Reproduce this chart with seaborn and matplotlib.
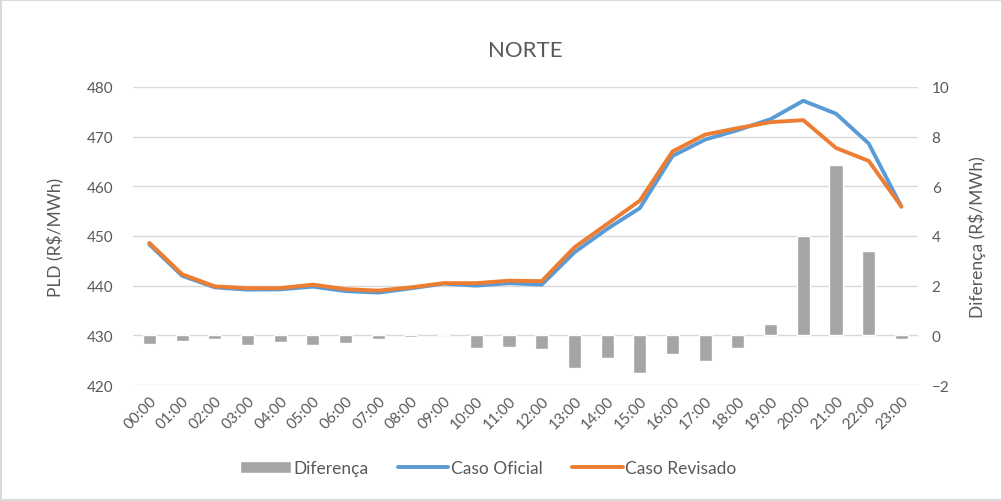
import numpy as np
import pandas as pd
import seaborn as sns
import matplotlib.pyplot as plt
from matplotlib.patches import Patch
from matplotlib.lines import Line2D

horas = ['%02d:00' % h for h in range(24)]
caso_oficial = [448.3, 442.0, 439.65, 439.2, 439.25, 439.8, 438.9, 438.6, 439.45, 440.4,
                440.0, 440.5, 440.2, 446.7, 451.4, 455.6, 466.1, 469.4, 471.3, 473.5,
                477.2, 474.6, 468.6, 455.9]
caso_revisado = [448.6, 442.3, 439.85, 439.5, 439.5, 440.2, 439.3, 439.0, 439.65, 440.5,
                 440.5, 441.0, 440.9, 447.7, 452.4, 457.1, 467.0, 470.4, 471.7, 472.9,
                 473.3, 467.7, 465.1, 455.9]
diferenca = [-0.34, -0.24, -0.13, -0.40, -0.27, -0.40, -0.31, -0.15, -0.08, 0.0,
             -0.51, -0.46, -0.54, -1.32, -0.91, -1.53, -0.77, -1.05, -0.51, 0.47,
             3.99, 6.85, 3.40, -0.15]

df = pd.DataFrame({'hora': horas, 'oficial': caso_oficial,
                   'revisado': caso_revisado, 'dif': diferenca})

sns.set_style('white')
plt.rcParams['font.family'] = ['Lato', 'DejaVu Sans']
cor_texto = '#595959'
azul = '#5B9BD5'
laranja = '#ED7D31'
cinza = '#A5A5A5'

fig = plt.figure(figsize=(10.03, 5.02), dpi=100)
fig.patch.set_edgecolor('#D9D9D9')
fig.patch.set_linewidth(1.5)
ax = fig.add_axes([0.1326, 0.231, 0.7824, 0.594])
ax2 = ax.twinx()

# barras no eixo secundario
sns.barplot(data=df, x='hora', y='dif', color=cinza, saturation=1, width=0.4, ax=ax2)
ax2.set_ylim(-2, 10)
ax2.set_yticks(range(-2, 11, 2))
ax2.grid(axis='y', color='#D9D9D9', linewidth=1)
ax2.set_axisbelow(True)
ax2.set_ylabel('Diferença (R$/MWh)', fontsize=12.5, color=cor_texto, labelpad=14)

# linhas no eixo principal
sns.lineplot(data=df, x='hora', y='oficial', color=azul, linewidth=2.8, ax=ax)
sns.lineplot(data=df, x='hora', y='revisado', color=laranja, linewidth=2.8, ax=ax)
ax.set_ylim(420, 480)
ax.set_yticks(range(420, 481, 10))
ax.set_xlim(-0.5, 23.5)
ax.set_ylabel('PLD (R$/MWh)', fontsize=12.5, color=cor_texto, labelpad=16)
ax.set_xlabel('')
ax.set_zorder(ax2.get_zorder() + 1)
ax.patch.set_visible(False)

for a in (ax, ax2):
    for s in a.spines.values():
        s.set_visible(False)
    a.tick_params(length=0, labelsize=11, labelcolor=cor_texto)
ax.tick_params(axis='y', pad=14)
ax2.tick_params(axis='y', pad=10)
ax2.set_xlabel('')
ax.set_xticks(range(24))
ax.set_xticklabels(horas, rotation=45, ha='right', rotation_mode='anchor')
ax.tick_params(axis='x', pad=6)

ax.set_title('NORTE', fontsize=16, color=cor_texto, pad=22)

handles = [Patch(facecolor=cinza, label='Diferença'),
           Line2D([], [], color=azul, linewidth=2.8, label='Caso Oficial'),
           Line2D([], [], color=laranja, linewidth=2.8, label='Caso Revisado')]
leg = fig.legend(handles=handles, loc='center', bbox_to_anchor=(0.487, 0.066), ncol=3,
                 frameon=False, fontsize=12.5, handlelength=2.9, handletextpad=0.15,
                 columnspacing=1.7)
for t in leg.get_texts():
    t.set_color(cor_texto)

fig.savefig('out.png', dpi=100)
